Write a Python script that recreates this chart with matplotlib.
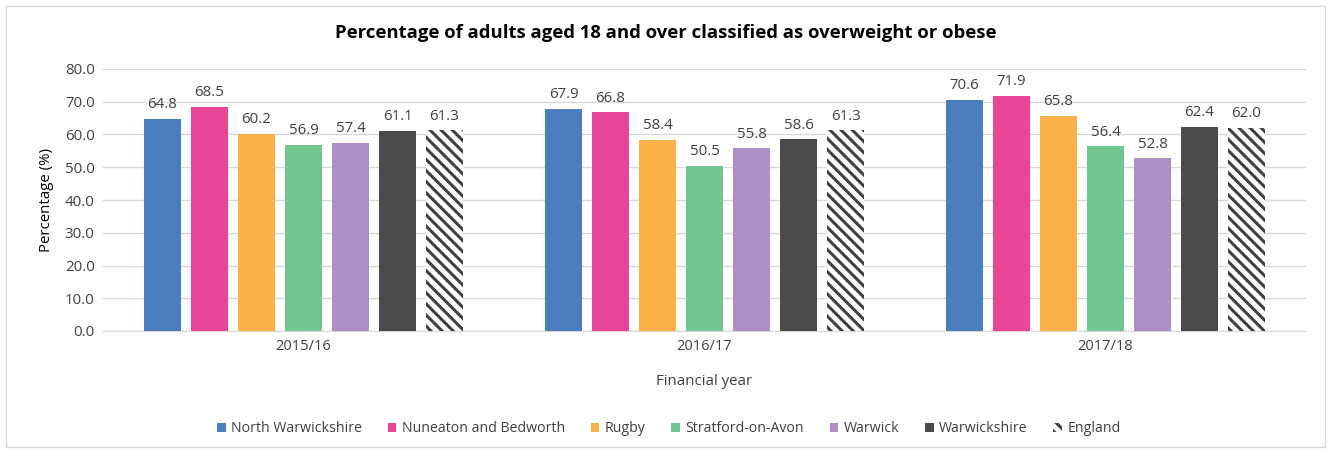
import matplotlib
matplotlib.use("Agg")
import matplotlib.pyplot as plt
import numpy as np
from matplotlib.patches import Rectangle

years = ["2015/16", "2016/17", "2017/18"]
series = ["North Warwickshire", "Nuneaton and Bedworth", "Rugby",
          "Stratford-on-Avon", "Warwick", "Warwickshire", "England"]
north_warwickshire = [64.8, 67.9, 70.6]
nuneaton_bedworth = [68.5, 66.8, 71.9]
rugby = [60.2, 58.4, 65.8]
stratford = [56.9, 50.5, 56.4]
warwick = [57.4, 55.8, 52.8]
warwickshire = [61.1, 58.6, 62.4]
england = [61.3, 61.3, 62.0]
values = [north_warwickshire, nuneaton_bedworth, rugby, stratford, warwick, warwickshire, england]
colors = ["#4a7ebf", "#e84596", "#fbb04a", "#72c68f", "#ac8fc5", "#4a4a4a", "white"]

plt.rcParams['font.family'] = ['Open Sans', 'DejaVu Sans']
plt.rcParams['hatch.color'] = '#404040'
plt.rcParams['hatch.linewidth'] = 2.2

fig = plt.figure(figsize=(13.3, 4.53), dpi=100)
fig.patches.append(Rectangle((6/1330, 6/453), 1319/1330, 441/453, transform=fig.transFigure,
                             fill=False, edgecolor="#d9d9d9", linewidth=1))
ax = fig.add_axes([103/1330, 1-331/453, 1203/1330, 262/453])

x = np.arange(len(years))
step = 47/401
width = 37/401
for i, (name, vals, c) in enumerate(zip(series, values, colors)):
    pos = x + (i - 3) * step
    if name == "England":
        ax.bar(pos, vals, width, color="white", hatch="\\\\\\", edgecolor="#404040",
               linewidth=0, label=name, zorder=3)
    else:
        ax.bar(pos, vals, width, color=c, label=name, zorder=3, linewidth=0)
    for p, v in zip(pos, vals):
        ax.text(p, v + 2.0, f"{v:.1f}", ha="center", va="bottom", fontsize=10.8, color="#404040")

ax.set_ylim(0, 80)
ax.set_xlim(-0.5, 2.5)
ax.set_yticks(np.arange(0, 81, 10))
ax.set_yticklabels([f"{t:.1f}" for t in np.arange(0, 81, 10)], fontsize=10.8, color="#404040")
ax.set_xticks(x)
ax.set_xticklabels(years, fontsize=10.5, color="#404040")
ax.tick_params(axis="both", length=0, pad=6)
ax.grid(axis="y", color="#d9d9d9", linewidth=1, zorder=0)
for s in ["top", "right", "left"]:
    ax.spines[s].set_visible(False)
ax.spines["bottom"].set_color("#d9d9d9")
ax.set_ylabel("Percentage (%)", fontsize=10.8, color="black", labelpad=8)
ax.set_xlabel("Financial year", fontsize=10.8, color="#404040", labelpad=14)
fig.text(666/1330, 1-33/453, "Percentage of adults aged 18 and over classified as overweight or obese",
         ha="center", va="center", fontsize=13.3, fontweight="bold")
fig.legend(loc="center", bbox_to_anchor=(669/1330, 1-429/453), ncol=7, frameon=False,
           fontsize=10.2, handlelength=0.6, handleheight=0.6, columnspacing=1.8, handletextpad=0.4,
           labelcolor="#404040")
fig.savefig("out.png", dpi=100)
